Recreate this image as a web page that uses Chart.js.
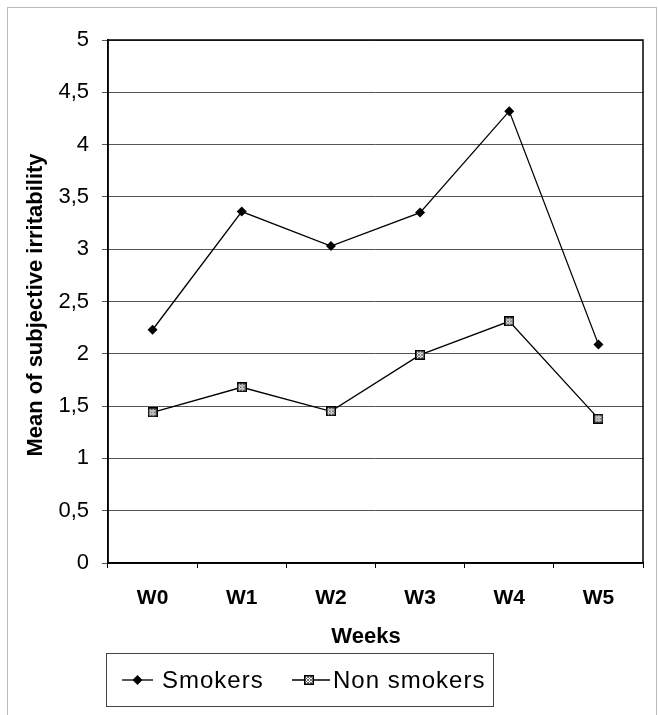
<!DOCTYPE html>
<html>
<head>
<meta charset="utf-8">
<script src="https://cdn.jsdelivr.net/npm/chart.js@4.4.1/dist/chart.umd.min.js"></script>
<style>
  html,body{margin:0;padding:0;background:#fff;}
  #wrap{position:relative;width:658px;height:715px;}
</style>
</head>
<body>
<div id="wrap"><canvas id="c" width="658" height="715"></canvas></div>
<script>
const categories = ['W0','W1','W2','W3','W4','W5'];
const smokers = [2.23, 3.36, 3.03, 3.35, 4.32, 2.09];
const nonSmokers = [1.44, 1.68, 1.45, 1.99, 2.31, 1.38];
const seriesNames = ['Smokers', 'Non smokers'];
const yTicks = [0, 0.5, 1, 1.5, 2, 2.5, 3, 3.5, 4, 4.5, 5];
const xTitle = 'Weeks';
const yTitle = 'Mean of subjective irritability';

const FONT = '"Liberation Sans", Arial, sans-serif';

function hatchSquare(size) {
  const cv = document.createElement('canvas');
  cv.width = size; cv.height = size;
  const g = cv.getContext('2d');
  g.fillStyle = '#fff';
  g.fillRect(0,0,size,size);
  g.strokeStyle = '#777';
  g.lineWidth = 1;
  for (let i = -size; i < size*2; i += 3) {
    g.beginPath(); g.moveTo(i, 0); g.lineTo(i+size, size); g.stroke();
    g.beginPath(); g.moveTo(i, size); g.lineTo(i+size, 0); g.stroke();
  }
  g.strokeStyle = '#000';
  g.lineWidth = 1.5;
  g.strokeRect(0.75,0.75,size-1.5,size-1.5);
  return cv;
}
const sq = hatchSquare(10);

const frameAndTitles = {
  id: 'frameAndTitles',
  beforeDraw(chart) {
    const ctx = chart.ctx;
    ctx.save();
    ctx.fillStyle = '#fff';
    ctx.fillRect(0,0,chart.width,chart.height);
    ctx.strokeStyle = '#bbb';
    ctx.lineWidth = 1;
    ctx.strokeRect(7.5, 7.5, 649, 720);
    ctx.restore();
  },
  afterDraw(chart) {
    const ctx = chart.ctx;
    const a = chart.chartArea;
    ctx.save();
    // plot border
    ctx.strokeStyle = '#000';
    ctx.lineWidth = 1.5;
    ctx.strokeRect(a.left, a.top, a.right - a.left, a.bottom - a.top);
    // y title
    ctx.fillStyle = '#000';
    ctx.font = 'bold 22px ' + FONT;
    ctx.textAlign = 'center';
    ctx.textBaseline = 'middle';
    ctx.save();
    ctx.translate(36, 305);
    ctx.rotate(-Math.PI/2);
    ctx.fillText(yTitle, 0, 0);
    ctx.restore();
    // x title
    ctx.font = 'bold 22px ' + FONT;
    ctx.fillText(xTitle, 366, 637);
    // legend box
    ctx.strokeStyle = '#444';
    ctx.lineWidth = 1;
    ctx.strokeRect(106.5, 653.5, 387, 53);
    const ly = 680;
    ctx.strokeStyle = '#000';
    ctx.lineWidth = 1.3;
    // smokers symbol
    ctx.beginPath(); ctx.moveTo(122, ly); ctx.lineTo(153, ly); ctx.stroke();
    ctx.fillStyle = '#000';
    ctx.beginPath();
    ctx.moveTo(137.5, ly-5); ctx.lineTo(142.5, ly); ctx.lineTo(137.5, ly+5); ctx.lineTo(132.5, ly);
    ctx.closePath(); ctx.fill();
    // non smokers symbol
    ctx.beginPath(); ctx.moveTo(292, ly); ctx.lineTo(330, ly); ctx.stroke();
    ctx.drawImage(sq, 304, ly-5);
    ctx.fillStyle = '#000';
    ctx.font = '24px ' + FONT;
    try { ctx.letterSpacing = '1px'; } catch (e) {}
    ctx.textAlign = 'left';
    ctx.fillText(seriesNames[0], 162, ly+1);
    ctx.fillText(seriesNames[1], 333, ly+1);
    ctx.restore();
  }
};

new Chart(document.getElementById('c'), {
  type: 'line',
  data: {
    labels: categories,
    datasets: [
      {
        label: seriesNames[0],
        data: smokers,
        borderColor: '#000',
        backgroundColor: '#000',
        borderWidth: 1.3,
        pointStyle: 'rectRot',
        pointRadius: 5,
        pointBorderWidth: 0,
        tension: 0
      },
      {
        label: seriesNames[1],
        data: nonSmokers,
        borderColor: '#000',
        backgroundColor: '#888',
        borderWidth: 1.3,
        pointStyle: sq,
        pointRadius: 5,
        tension: 0
      }
    ]
  },
  plugins: [frameAndTitles],
  options: {
    responsive: false,
    animation: false,
    devicePixelRatio: 1,
    layout: { padding: { top: 40, right: 15, left: 0, bottom: 0 } },
    plugins: {
      legend: { display: false },
      tooltip: { enabled: false }
    },
    scales: {
      x: {
        offset: true,
        grid: {
          display: true,
          drawOnChartArea: false,
          drawTicks: true,
          tickLength: 5,
          color: '#000',
          offset: true
        },
        border: { display: true, color: '#000', width: 1.5 },
        ticks: {
          color: '#000',
          font: { family: FONT, size: 21, weight: 'bold' },
          padding: 18,
          maxRotation: 0
        },
        afterFit(scale) { scale.height = 152; }
      },
      y: {
        min: 0,
        max: 5,
        afterBuildTicks(scale) { scale.ticks = yTicks.map(v => ({ value: v })); },
        grid: {
          color: '#555',
          lineWidth: 1,
          tickLength: 6,
          drawTicks: true
        },
        border: { display: true, color: '#000', width: 1.5 },
        ticks: {
          color: '#000',
          font: { family: FONT, size: 22 },
          padding: 13,
          callback: (v) => String(v).replace('.', ',')
        },
        afterFit(scale) { scale.width = 108; }
      }
    }
  }
});
</script>
</body>
</html>
